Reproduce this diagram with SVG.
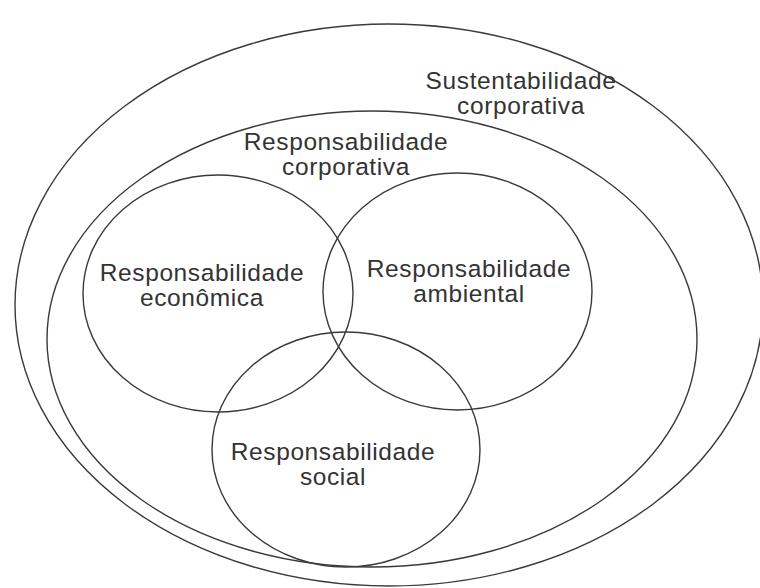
<svg xmlns="http://www.w3.org/2000/svg" width="760" height="588" viewBox="0 0 760 588">
  <style>
    .ring { fill: none; stroke: #3a3a3a; stroke-width: 1.4; }
    .label { font-family: "Liberation Sans", Arial, sans-serif; font-size: 24.5px; letter-spacing: 0.6px; fill: #333333; text-anchor: middle; }
  </style>
  <rect width="760" height="588" fill="#ffffff"/>

  <!-- Outer set: corporate sustainability -->
  <g id="sustentabilidade-corporativa">
    <ellipse class="ring" cx="389" cy="305" rx="374" ry="281"/>
    <text class="label" x="521" y="89">Sustentabilidade</text>
    <text class="label" x="521" y="114">corporativa</text>
  </g>

  <!-- Middle set: corporate responsibility -->
  <g id="responsabilidade-corporativa">
    <ellipse class="ring" cx="372" cy="339" rx="325" ry="228"/>
    <text class="label" x="346" y="150">Responsabilidade</text>
    <text class="label" x="346" y="175">corporativa</text>
  </g>

  <!-- Three overlapping responsibility circles -->
  <g id="responsabilidade-economica">
    <ellipse class="ring" cx="218" cy="293.5" rx="135" ry="118.5"/>
    <text class="label" x="202" y="281">Responsabilidade</text>
    <text class="label" x="202" y="306">econômica</text>
  </g>

  <g id="responsabilidade-ambiental">
    <ellipse class="ring" cx="457.5" cy="291.5" rx="134.5" ry="118.5"/>
    <text class="label" x="469" y="277">Responsabilidade</text>
    <text class="label" x="469" y="302">ambiental</text>
  </g>

  <g id="responsabilidade-social">
    <ellipse class="ring" cx="346" cy="449.5" rx="134" ry="117.5"/>
    <text class="label" x="333" y="460">Responsabilidade</text>
    <text class="label" x="333" y="485">social</text>
  </g>
</svg>
